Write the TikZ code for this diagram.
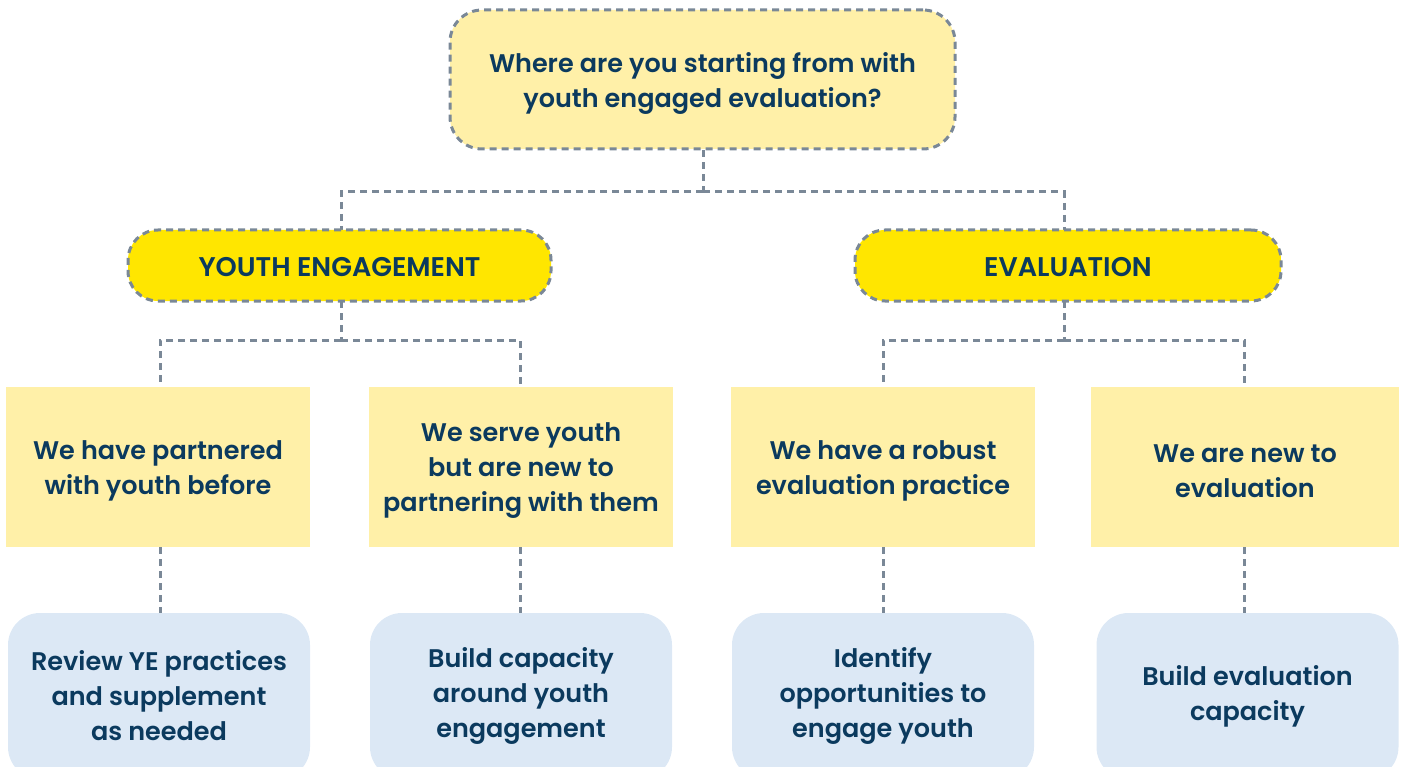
\documentclass[tikz,border=0pt]{standalone}
\usepackage{fontspec}
\setmainfont{Poppins}[BoldFont={Poppins SemiBold}]
\usetikzlibrary{backgrounds}
\definecolor{navy}{HTML}{0B3A5E}
\definecolor{paley}{HTML}{FFF0A8}
\definecolor{brighty}{HTML}{FFE600}
\definecolor{paleb}{HTML}{DCE8F5}
\definecolor{dgray}{HTML}{7A8897}
\tikzset{
  txt/.style={text=navy, align=center, inner sep=0pt, font=\bfseries\fontsize{25.5}{35}\selectfont},
  dashline/.style={draw=dgray, line width=3pt, dash pattern=on 7pt off 5pt},
  qbox/.style={fill=paley, dashline, rounded corners=32pt, minimum width=505pt, minimum height=139pt},
  pill/.style={fill=brighty, dashline, rounded corners=30pt, minimum height=71pt},
  midbox/.style={fill=paley, minimum width=304pt, minimum height=160pt},
  endbox/.style={fill=paleb, rounded corners=32pt, minimum width=302pt, minimum height=166pt},
  conn/.style={dashline}
}
\begin{document}
\begin{tikzpicture}[x=1pt,y=-1pt]
\useasboundingbox (0,0) rectangle (1405,767);
\clip (0,0) rectangle (1405,767);
\node[qbox, label={[txt, yshift=-4pt]center:Where are you starting from with\\youth engaged evaluation?}] (top) at (702.5,79.5) {};
\node[pill, minimum width=423pt, label={[txt, font=\bfseries\fontsize{27}{35}\selectfont, yshift=-2pt]center:YOUTH ENGAGEMENT}] (ye) at (339.5,265.5) {};
\node[pill, minimum width=426pt, label={[txt, font=\bfseries\fontsize{27}{35}\selectfont, yshift=-2pt]center:EVALUATION}] (ev) at (1068,265.5) {};
\node[midbox, label={[txt, yshift=-4pt]center:We have partnered\\with youth before}] (m1) at (158,467) {};
\node[midbox, label={[txt, yshift=-4pt]center:We serve youth\\but are new to\\partnering with them}] (m2) at (521,467) {};
\node[midbox, label={[txt, yshift=-4pt]center:We have a robust\\evaluation practice}] (m3) at (883,467) {};
\node[midbox, minimum width=308pt, label={[txt, yshift=-4pt]center:We are new to\\evaluation}] (m4) at (1245,467) {};
\node[endbox, label={[txt]center:Review YE practices\\and supplement\\as needed}] (b1) at (159,696) {};
\node[endbox, label={[txt]center:Build capacity\\around youth\\engagement}] (b2) at (521,696) {};
\node[endbox, label={[txt]center:Identify\\opportunities to\\engage youth}] (b3) at (883,696) {};
\node[endbox, label={[txt]center:Build evaluation\\capacity}] (b4) at (1247.5,696) {};
\coordinate (j1) at (703,192);
\coordinate (j2) at (341,340);
\coordinate (j3) at (1064,340);
\coordinate (ye1) at (341,301);
\coordinate (ev1) at (1064,301);
\begin{scope}[on background layer]
\draw[conn] (top.south -| j1) -- (j1);
\draw[conn] (j1) -| (ye1);
\draw[conn] (j1) -| (ev1);
\draw[conn] (ye1) -- (j2);
\draw[conn] (ev1) -- (j3);
\draw[conn] (j2) -| (160,387);
\draw[conn] (j2) -| (520,387);
\draw[conn] (j3) -| (883,387);
\draw[conn] (j3) -| (1244,387);
\draw[conn] (m1.south -| 160,0) -- (b1.north -| 160,0);
\draw[conn] (m2.south -| 520,0) -- (b2.north -| 520,0);
\draw[conn] (m3.south) -- (b3.north);
\draw[conn] (m4.south -| 1244,0) -- (b4.north -| 1244,0);
\end{scope}
\end{tikzpicture}
\end{document}
